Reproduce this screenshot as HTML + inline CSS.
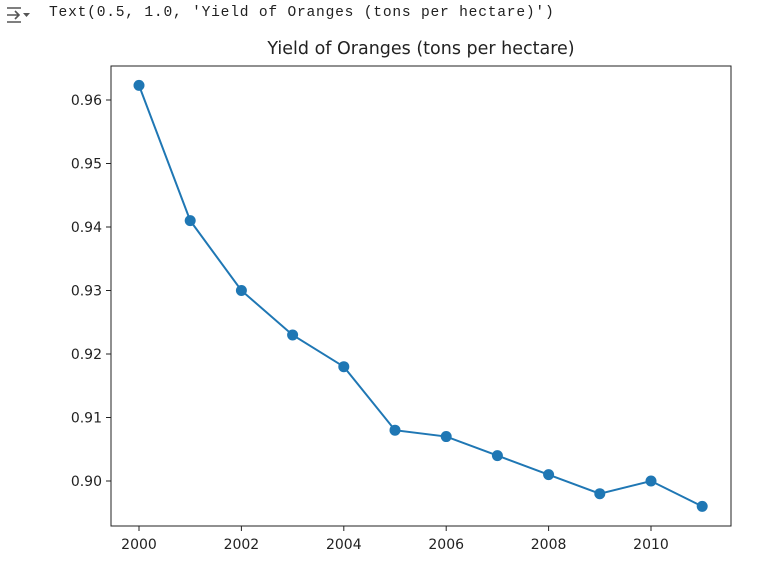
<!DOCTYPE html>
<html><head><meta charset="utf-8"><style>
body{margin:0;background:#fff;width:763px;height:564px;overflow:hidden;font-family:"DejaVu Sans","Liberation Sans",sans-serif}
#hdr{position:absolute;left:49px;top:5px;font-family:"Liberation Mono",monospace;font-size:14.6px;letter-spacing:0.78px;color:#212121;white-space:nowrap}
#ico{position:absolute;left:4px;top:4px}
</style></head><body>
<svg id="ico" width="30" height="22"><path d="M3 4h14M3 18h14M3 11h12M11 7l4 4-4 4" stroke="#555" stroke-width="1.6" fill="none"/><path d="M19 9h7l-3.5 4z" fill="#555"/></svg>
<div id="hdr">Text(0.5, 1.0, 'Yield of Oranges (tons per hectare)')</div>
<svg id="chart" width="763" height="564" style="position:absolute;left:0;top:0"></svg>
<script>
const years=[2000,2001,2002,2003,2004,2005,2006,2007,2008,2009,2010,2011];
const yields=[0.9623,0.941,0.930,0.923,0.918,0.908,0.907,0.904,0.901,0.898,0.900,0.896];
const xTicks=[2000,2002,2004,2006,2008,2010];
const yTicks=[0.90,0.91,0.92,0.93,0.94,0.95,0.96];
const L=111,R=731,T=66,B=526;
const sx=v=>139+(v-2000)*51.2;
const sy=v=>481-(v-0.90)*6350;
const svg=document.getElementById('chart');
const NS='http://www.w3.org/2000/svg';
function mk(t,a){const e=document.createElementNS(NS,t);for(const k in a)e.setAttribute(k,a[k]);svg.appendChild(e);return e;}
const title=mk('text',{x:(L+R)/2,y:54,'text-anchor':'middle','font-size':'17.5',fill:'#222'});
title.textContent='Yield of Oranges (tons per hectare)';


const frame=mk('rect',{x:L,y:T,width:R-L,height:B-T,fill:'none',stroke:'#222','stroke-width':1});


xTicks.forEach(v=>{
  mk('line',{x1:sx(v),x2:sx(v),y1:B,y2:B+5,stroke:'#222'});
  const t=mk('text',{x:sx(v),y:B+23,'text-anchor':'middle','font-size':'14',fill:'#222'});
  t.textContent=v;
  
  
});
yTicks.forEach(v=>{
  mk('line',{x1:L-5,x2:L,y1:sy(v),y2:sy(v),stroke:'#222'});
  const t=mk('text',{x:L-9,y:sy(v)+5,'text-anchor':'end','font-size':'14',fill:'#222'});
  t.textContent=v.toFixed(2);
  
  
});
const line=mk('polyline',{points:years.map((y,i)=>sx(y)+','+sy(yields[i])).join(' '),fill:'none',stroke:'#1f77b4','stroke-width':2});


years.forEach((y,i)=>{
  const c=mk('circle',{cx:sx(y),cy:sy(yields[i]),r:5.5,fill:'#1f77b4'});
  
  
});
</script>
</body></html>
